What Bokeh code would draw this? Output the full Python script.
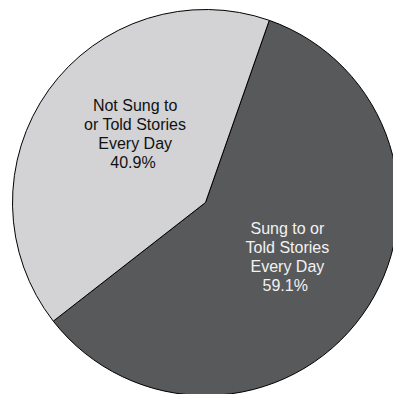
import math
from bokeh.plotting import figure
from bokeh.models import Range1d
from bokeh.core.properties import value
from bokeh.embed import file_html
from bokeh.resources import INLINE

# data
categories = ["Sung to or\nTold Stories\nEvery Day", "Not Sung to\nor Told Stories\nEvery Day"]
percents = [59.1, 40.9]
colors = ["#58595b", "#d3d3d5"]
text_colors = ["#f2f2f2", "#111111"]

W, H = 393, 394
p = figure(width=W, height=H, output_backend="svg", toolbar_location=None,
           x_range=Range1d(0, W), y_range=Range1d(0, H), min_border=0,
           outline_line_color=None)
p.axis.visible = False
p.grid.visible = False
p.background_fill_color = "white"
p.border_fill_color = "white"

cx, cy, R = 205, 192, 193
start0 = math.radians(70.7 + 147.24)  # dark slice starts where light ends
total = sum(percents)
ang = start0
label_adj = [2.0, -8.7]
for i, (cat, pct) in enumerate(zip(categories, percents)):
    span = 2 * math.pi * pct / total
    p.wedge(x=[cx], y=[cy], radius=R, start_angle=ang, end_angle=ang + span,
            fill_color=colors[i], line_color="black", line_width=1)
    mid = ang + span / 2 + math.radians(label_adj[i])
    lx = cx + 0.51 * R * math.cos(mid)
    ly = cy + 0.51 * R * math.sin(mid)
    lines = cat.split("\n") + [f" {pct:.1f}%"]
    n = len(lines)
    for j, line in enumerate(lines):
        off = (j - (n - 1) / 2) * 19
        p.text(x=[lx], y=[ly], text=[line], y_offset=off,
               text_align="center", text_baseline="middle",
               text_font=value("Liberation Sans"), text_font_size="16px",
               text_color=text_colors[i])
    ang += span

open("out.html", "w").write(file_html(p, INLINE))
